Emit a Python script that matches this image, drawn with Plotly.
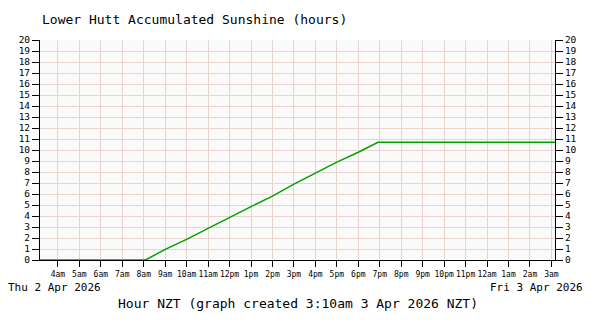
import plotly.graph_objects as go

# Data
times = ["2026-04-02 03:10", "2026-04-02 08:05", "2026-04-02 09:00", "2026-04-02 10:00",
         "2026-04-02 11:00", "2026-04-02 12:00", "2026-04-02 13:00", "2026-04-02 14:00",
         "2026-04-02 15:00", "2026-04-02 16:00", "2026-04-02 17:00", "2026-04-02 18:00",
         "2026-04-02 18:55", "2026-04-03 03:10"]
sunshine = [0, 0, 0.97, 1.88, 2.88, 3.9, 4.85, 5.8, 6.9, 7.9, 8.9, 9.8, 10.7, 10.7]

tick_times = ["2026-04-02 04:00", "2026-04-02 05:00", "2026-04-02 06:00", "2026-04-02 07:00",
              "2026-04-02 08:00", "2026-04-02 09:00", "2026-04-02 10:00", "2026-04-02 11:00",
              "2026-04-02 12:00", "2026-04-02 13:00", "2026-04-02 14:00", "2026-04-02 15:00",
              "2026-04-02 16:00", "2026-04-02 17:00", "2026-04-02 18:00", "2026-04-02 19:00",
              "2026-04-02 20:00", "2026-04-02 21:00", "2026-04-02 22:00", "2026-04-02 23:00",
              "2026-04-03 00:00", "2026-04-03 01:00", "2026-04-03 02:00", "2026-04-03 03:00"]
tick_labels = ["4am", "5am", "6am", "7am", "8am", "9am", "10am", "11am", "12pm", "1pm", "2pm",
               "3pm", "4pm", "5pm", "6pm", "7pm", "8pm", "9pm", "10pm", "11pm", "12am", "1am",
               "2am", "3am"]
y_ticks = list(range(0, 21))

title = "Lower Hutt Accumulated Sunshine (hours)"
xtitle = "Hour NZT (graph created 3:10am 3 Apr 2026 NZT)"
left_date = "Thu 2 Apr 2026"
right_date = "Fri 3 Apr 2026"

FONT = "DejaVu Sans Mono"
GRID = "#E8D4CC"

fig = go.Figure()
fig.add_trace(go.Scatter(x=times, y=sunshine, mode="lines",
                         line=dict(color="#00A000", width=1.5), hoverinfo="skip",
                         showlegend=False))
fig.add_trace(go.Scatter(x=times, y=sunshine, mode="lines", yaxis="y2",
                         line=dict(color="rgba(0,0,0,0)", width=0), hoverinfo="skip",
                         showlegend=False))

fig.update_layout(
    width=600, height=320,
    margin=dict(l=40, r=45, t=40, b=60),
    paper_bgcolor="white", plot_bgcolor="#FAFAFA",
    font=dict(family=FONT, color="black"),
    xaxis=dict(type="date", range=[times[0], times[-1]],
               tickmode="array", tickvals=tick_times, ticktext=tick_labels,
               tickangle=0,
               ticks="outside", ticklen=6, tickcolor="black", tickwidth=1,
               showline=True, linecolor="black", linewidth=1,
               showgrid=True, gridcolor=GRID, gridwidth=1,
               tickfont=dict(size=8, family=FONT), zeroline=False),
    yaxis=dict(range=[0, 20], tickmode="array", tickvals=y_ticks,
               ticks="outside", ticklen=7, tickcolor="black",
               showline=True, linecolor="black", linewidth=1,
               showgrid=True, gridcolor=GRID, gridwidth=1,
               tickfont=dict(size=9.5, family=FONT), zeroline=False),
    yaxis2=dict(range=[0, 20], overlaying="y", side="right", tickmode="array",
                tickvals=y_ticks, ticks="outside", ticklen=7, tickcolor="black",
                showline=True, linecolor="black", linewidth=1, showgrid=False,
                tickfont=dict(size=9.5, family=FONT), zeroline=False),
    annotations=[
        dict(text=title, xref="paper", yref="paper", x=0, y=1, xanchor="left",
             yanchor="middle", yshift=21, showarrow=False, font=dict(size=13, family=FONT)),
        dict(text=left_date, xref="paper", yref="paper", x=-34 / 515, y=0, xanchor="left",
             yanchor="middle", yshift=-27, showarrow=False, font=dict(size=11, family=FONT)),
        dict(text=right_date, xref="paper", yref="paper", x=1 + 30 / 515, y=0, xanchor="right",
             yanchor="middle", yshift=-27, showarrow=False, font=dict(size=11, family=FONT)),
        dict(text=xtitle, xref="paper", yref="paper", x=0.5, y=0, xanchor="center",
             yanchor="middle", yshift=-43, showarrow=False, font=dict(size=13, family=FONT)),
    ],
)

fig.write_html("out.html")
